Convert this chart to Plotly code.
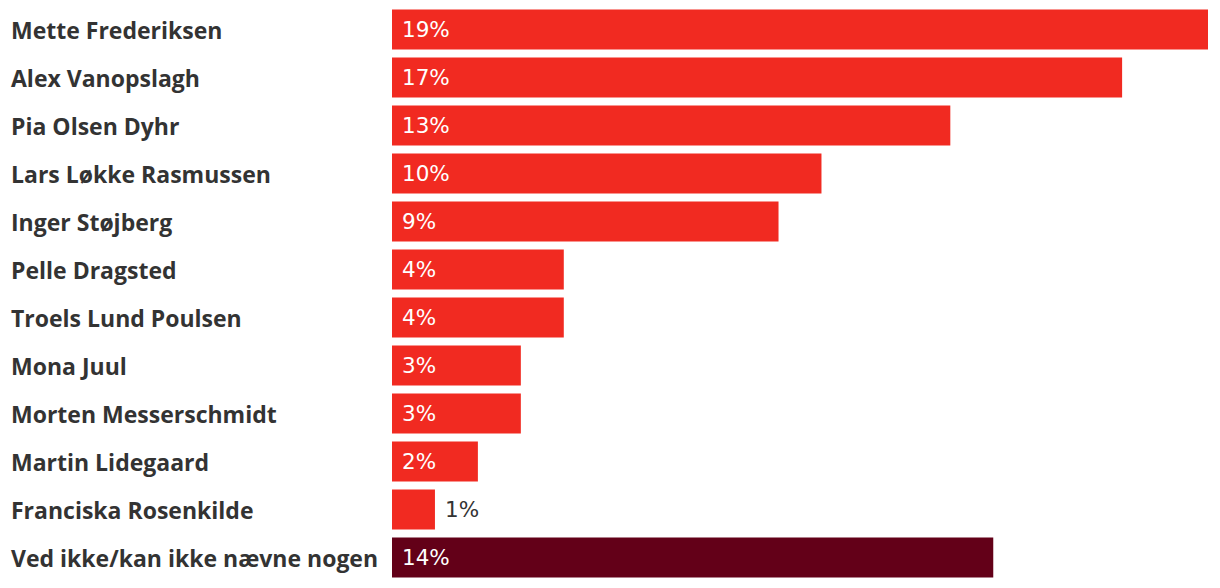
import plotly.graph_objects as go

names = ["Mette Frederiksen", "Alex Vanopslagh", "Pia Olsen Dyhr", "Lars Løkke Rasmussen",
         "Inger Støjberg", "Pelle Dragsted", "Troels Lund Poulsen", "Mona Juul",
         "Morten Messerschmidt", "Martin Lidegaard", "Franciska Rosenkilde",
         "Ved ikke/kan ikke nævne nogen"]
values = [19, 17, 13, 10, 9, 4, 4, 3, 3, 2, 1, 14]
labels = [f"{v}%" for v in values]

RED = "#F12A21"
DARK = "#630018"
colors = [RED] * 11 + [DARK]

fig = go.Figure(go.Bar(
    x=values, y=names, orientation="h",
    marker=dict(color=colors, line=dict(width=0)),
    hoverinfo="skip",
))

# page has an 8px body margin; figure coords = page coords - 8
W, H = 1212, 580
L, R, T, B = 384, 12, 0, 6
pw = W - L - R
ph = H - T - B
band = 48.0
top = -0.5 + 2.5 / band
bottom = top + ph / band

annotations = []
for n, v, lab in zip(names, values, labels):
    annotations.append(dict(
        x=-(L - 1) / pw, xref="paper", y=n, yref="y", text=n, showarrow=False,
        xanchor="left", yanchor="middle",
        font=dict(family="Open Sans", size=23, color="#333333", weight="bold"),
    ))
    inside = v >= 2
    annotations.append(dict(
        x=0 if inside else v, y=n, text=lab, showarrow=False,
        xanchor="left", yanchor="middle", xshift=8 if inside else 8,
        font=dict(family="DejaVu Sans", size=21.5, color="white" if inside else "#333333"),
    ))

fig.update_layout(
    width=W, height=H,
    margin=dict(l=L, r=R, t=T, b=B),
    paper_bgcolor="white", plot_bgcolor="white",
    bargap=0.17,
    showlegend=False,
    xaxis=dict(range=[0, 19], visible=False, fixedrange=True),
    yaxis=dict(range=[bottom, top], visible=False, fixedrange=True),
    annotations=annotations,
)

fig.write_html("out.html", config={"displayModeBar": False})
